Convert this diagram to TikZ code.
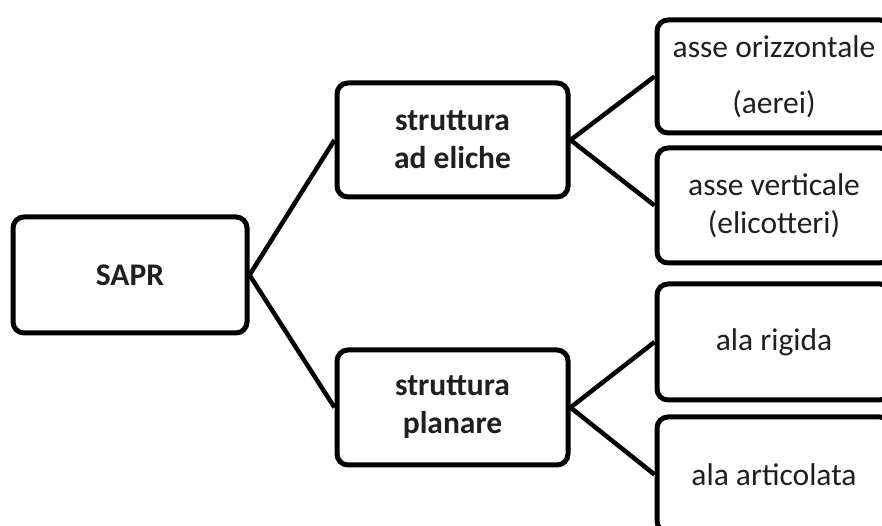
\documentclass[tikz,border=0pt]{standalone}
\usepackage{fontspec}
\setmainfont{Carlito}
\begin{document}
\begin{tikzpicture}[x=1pt,y=1pt,
  box/.style={draw=black, line width=5pt, rounded corners=11pt, fill=white,
    align=center, inner sep=0pt, text=black!88,
    font=\fontsize{31.5}{38}\selectfont},
  boldbox/.style={box, font=\fontsize{31.5}{38}\selectfont\bfseries},
  conn/.style={line width=4.5pt, black}]
\useasboundingbox (0,0) rectangle (882,526);
\clip (0,0) rectangle (882,526);
\node[boldbox, minimum width=234pt, minimum height=116pt] (sapr) at (130,251) {SAPR};
\node[boldbox, minimum width=231pt, minimum height=114pt] (eli) at (452.5,386) {struttura\\ad eliche};
\node[boldbox, minimum width=231pt, minimum height=115pt] (pla) at (452.5,118.5) {struttura\\planare};
\node[box, minimum width=234pt, minimum height=113pt] (oriz) at (774,449.5) {asse orizzontale\\[18pt](aerei)};
\node[box, minimum width=234pt, minimum height=115pt] (vert) at (774,320.5) {asse verticale\\(elicotteri)};
\node[box, minimum width=234pt, minimum height=116pt] (rig) at (774,184) {ala rigida};
\node[box, minimum width=234pt, minimum height=115pt] (art) at (774,51.5) {ala articolata};
\draw[conn] (sapr.east) -- (eli.west);
\draw[conn] (sapr.east) -- (pla.west);
\draw[conn] (eli.east) -- (oriz.west);
\draw[conn] (eli.east) -- (vert.west);
\draw[conn] (pla.east) -- (rig.west);
\draw[conn] (pla.east) -- (art.west);
\end{tikzpicture}
\end{document}
